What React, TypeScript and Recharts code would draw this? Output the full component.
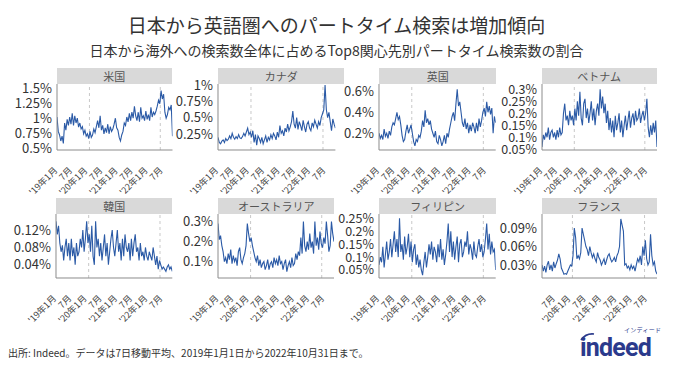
import React from "react";
import { LineChart, Line, XAxis, YAxis, ReferenceLine } from "recharts";

// 2019-01-01 .. 2022-10-31, 2 readings per month (7-day moving average)
const START = Date.UTC(2019, 0, 1);
const FR_START = Date.UTC(2019, 1, 1);
const END = Date.UTC(2022, 9, 31);

const usValues = [
  1.02, 0.78, 0.72, 0.62, 0.7, 0.58, 0.92, 0.8, 0.98, 0.88, 1.02, 0.9, 1.08, 0.88, 1.04, 0.92, 1.0, 0.85, 0.92, 0.82, 0.86, 0.74, 0.8, 0.7,
  0.74, 0.66, 0.78, 0.68, 0.72, 0.82, 0.76, 0.86, 0.96, 0.84, 1.04, 0.8, 0.88, 0.74, 0.84, 0.76, 0.9, 0.74, 0.86, 0.78, 0.82, 0.9, 1.0, 0.84,
  0.8, 0.68, 0.62, 0.72, 0.78, 0.92, 0.88, 1.02, 0.94, 1.08, 0.96, 1.1, 1.0, 1.2, 1.04, 0.96, 1.1, 0.94, 1.18, 1.0, 1.04, 0.96, 1.12, 0.98,
  1.06, 0.96, 1.18, 1.02, 1.1, 1.06, 1.12, 1.2, 1.3, 1.24, 1.46, 1.32, 1.4, 1.1, 1.0, 1.06, 1.18, 1.14, 1.22, 0.7,
];
const caValues = [
  0.2, 0.12, 0.1, 0.14, 0.16, 0.12, 0.18, 0.15, 0.17, 0.22, 0.18, 0.26, 0.2, 0.17, 0.21, 0.18, 0.24, 0.19, 0.18, 0.21, 0.26, 0.22, 0.28, 0.34,
  0.24, 0.28, 0.2, 0.3, 0.12, 0.24, 0.08, 0.22, 0.18, 0.12, 0.2, 0.1, 0.16, 0.22, 0.12, 0.2, 0.16, 0.24, 0.18, 0.26, 0.22, 0.16, 0.28, 0.2,
  0.38, 0.26, 0.3, 0.22, 0.34, 0.28, 0.4, 0.3, 0.36, 0.44, 0.6, 0.4, 0.34, 0.5, 0.32, 0.44, 0.38, 0.3, 0.46, 0.36, 0.28, 0.4, 0.44, 0.34,
  0.3, 0.42, 0.36, 0.46, 0.4, 0.34, 0.44, 0.38, 0.5, 0.56, 0.62, 1.0, 0.62, 0.5, 0.58, 0.44, 0.3, 0.48, 0.4, 0.34,
];
const ukValues = [
  0.2, 0.15, 0.18, 0.14, 0.24, 0.17, 0.2, 0.15, 0.22, 0.18, 0.26, 0.3, 0.28, 0.34, 0.4, 0.33, 0.36, 0.28, 0.18, 0.12, 0.14, 0.22, 0.28, 0.2,
  0.24, 0.28, 0.2, 0.12, 0.08, 0.14, 0.12, 0.18, 0.16, 0.22, 0.32, 0.26, 0.42, 0.3, 0.34, 0.28, 0.32, 0.24, 0.2, 0.16, 0.22, 0.12, 0.1, 0.18,
  0.14, 0.08, 0.12, 0.18, 0.1, 0.2, 0.16, 0.24, 0.3, 0.36, 0.4, 0.32, 0.48, 0.62, 0.46, 0.5, 0.4, 0.3, 0.26, 0.34, 0.24, 0.3, 0.2, 0.28,
  0.22, 0.3, 0.26, 0.2, 0.3, 0.22, 0.34, 0.26, 0.32, 0.4, 0.44, 0.36, 0.5, 0.4, 0.46, 0.38, 0.44, 0.2, 0.36, 0.3,
];
const vnValues = [
  0.06, 0.11, 0.09, 0.12, 0.1, 0.14, 0.09, 0.12, 0.13, 0.1, 0.12, 0.09, 0.13, 0.1, 0.14, 0.11, 0.12, 0.2, 0.24, 0.17, 0.19, 0.15, 0.21, 0.17,
  0.19, 0.15, 0.22, 0.17, 0.25, 0.19, 0.29, 0.18, 0.15, 0.24, 0.26, 0.18, 0.22, 0.16, 0.2, 0.25, 0.17, 0.22, 0.15, 0.21, 0.24, 0.19, 0.3, 0.22,
  0.27, 0.2, 0.24, 0.16, 0.21, 0.13, 0.18, 0.12, 0.17, 0.1, 0.19, 0.13, 0.16, 0.2, 0.12, 0.17, 0.1, 0.15, 0.19, 0.13, 0.17, 0.21, 0.14, 0.18,
  0.2, 0.15, 0.21, 0.17, 0.18, 0.22, 0.16, 0.19, 0.21, 0.17, 0.2, 0.26, 0.14, 0.1, 0.15, 0.11, 0.16, 0.12, 0.17, 0.06,
];
const krValues = [
  0.14, 0.11, 0.13, 0.09, 0.07, 0.085, 0.05, 0.08, 0.1, 0.06, 0.09, 0.05, 0.1, 0.06, 0.08, 0.04, 0.09, 0.06, 0.07, 0.1, 0.08, 0.12, 0.07, 0.1,
  0.14, 0.09, 0.11, 0.07, 0.13, 0.06, 0.04, 0.14, 0.08, 0.1, 0.06, 0.09, 0.05, 0.08, 0.11, 0.06, 0.09, 0.04, 0.07, 0.1, 0.12, 0.08, 0.06, 0.09,
  0.12, 0.07, 0.09, 0.05, 0.1, 0.06, 0.11, 0.08, 0.07, 0.09, 0.05, 0.1, 0.06, 0.09, 0.11, 0.07, 0.08, 0.05, 0.09, 0.06, 0.07, 0.05, 0.08, 0.06,
  0.05, 0.07, 0.06, 0.05, 0.08, 0.06, 0.04, 0.06, 0.03, 0.05, 0.04, 0.03, 0.035, 0.03, 0.025, 0.035, 0.04, 0.03, 0.035, 0.025,
];
const auValues = [
  0.29, 0.21, 0.23, 0.18, 0.15, 0.1, 0.12, 0.09, 0.14, 0.11, 0.16, 0.09, 0.13, 0.1, 0.12, 0.08, 0.15, 0.17, 0.11, 0.09, 0.12, 0.14, 0.18, 0.29,
  0.24, 0.2, 0.22, 0.18, 0.15, 0.12, 0.1, 0.13, 0.08, 0.11, 0.07, 0.09, 0.1, 0.06, 0.08, 0.11, 0.06, 0.09, 0.1, 0.07, 0.12, 0.09, 0.11, 0.08,
  0.13, 0.09, 0.1, 0.06, 0.09, 0.11, 0.05, 0.08, 0.1, 0.07, 0.12, 0.08, 0.09, 0.14, 0.11, 0.15, 0.13, 0.22, 0.14, 0.3, 0.18, 0.15, 0.2, 0.16,
  0.24, 0.17, 0.2, 0.14, 0.3, 0.18, 0.22, 0.16, 0.25, 0.19, 0.17, 0.22, 0.19, 0.3, 0.23, 0.15, 0.18, 0.3, 0.24, 0.2,
];
const phValues = [
  0.07, 0.1, 0.08, 0.14, 0.06, 0.11, 0.16, 0.09, 0.12, 0.17, 0.1, 0.15, 0.2, 0.12, 0.17, 0.1, 0.25, 0.12, 0.15, 0.09, 0.18, 0.11, 0.14, 0.19,
  0.1, 0.16, 0.08, 0.13, 0.15, 0.07, 0.11, 0.06, 0.09, 0.05, 0.03, 0.08, 0.12, 0.06, 0.1, 0.15, 0.11, 0.16, 0.09, 0.14, 0.12, 0.08, 0.15, 0.1,
  0.17, 0.09, 0.13, 0.07, 0.11, 0.16, 0.23, 0.12, 0.2, 0.1, 0.16, 0.09, 0.14, 0.18, 0.08, 0.15, 0.17, 0.1, 0.12, 0.16, 0.14, 0.2, 0.11, 0.15,
  0.13, 0.09, 0.16, 0.11, 0.1, 0.14, 0.17, 0.12, 0.15, 0.1, 0.12, 0.17, 0.23, 0.13, 0.19, 0.11, 0.16, 0.12, 0.13, 0.05,
];
// France starts Feb 2019
const frValues = [
  0.03, 0.02, 0.028, 0.018, 0.03, 0.036, 0.022, 0.03, 0.02, 0.035, 0.025, 0.032, 0.038, 0.048, 0.04, 0.025, 0.02, 0.015, 0.016, 0.015,
  0.02, 0.025, 0.03, 0.028, 0.045, 0.09, 0.075, 0.04, 0.045, 0.04, 0.05, 0.09, 0.08, 0.07, 0.06, 0.055, 0.045, 0.06, 0.05, 0.042,
  0.048, 0.04, 0.035, 0.05, 0.042, 0.038, 0.03, 0.035, 0.04, 0.03, 0.038, 0.045, 0.048, 0.04, 0.035, 0.038, 0.042, 0.035, 0.045, 0.05,
  0.06, 0.105, 0.095, 0.085, 0.03, 0.032, 0.025, 0.028, 0.022, 0.03, 0.024, 0.028, 0.02, 0.03, 0.04, 0.035, 0.045, 0.03, 0.06, 0.045,
  0.07, 0.04, 0.03, 0.035, 0.08, 0.045, 0.03, 0.035, 0.02, 0.015,
];

const xTickDates = [
  Date.UTC(2019, 0, 1), Date.UTC(2019, 6, 1), Date.UTC(2020, 0, 1), Date.UTC(2020, 6, 1),
  Date.UTC(2021, 0, 1), Date.UTC(2021, 6, 1), Date.UTC(2022, 0, 1), Date.UTC(2022, 6, 1),
];
const xTickLabels = ["'19年1月", "7月", "'20年1月", "7月", "'21年1月", "7月", "'22年1月", "7月"];
const markers = [Date.UTC(2020, 0, 29), Date.UTC(2022, 5, 5)];

const usTicks = [0.5, 0.75, 1, 1.25, 1.5];
const caTicks = [0.25, 0.5, 0.75, 1];
const ukTicks = [0.2, 0.4, 0.6];
const vnTicks = [0.05, 0.1, 0.15, 0.2, 0.25, 0.3];
const krTicks = [0.04, 0.08, 0.12];
const auTicks = [0.1, 0.2, 0.3];
const phTicks = [0.05, 0.1, 0.15, 0.2, 0.25];
const frTicks = [0.03, 0.06, 0.09];

const toSeries = (values: number[], start: number) =>
  values.map((v, i) => ({ t: start + ((END - start) * i) / (values.length - 1), v }));

const panels = [
  { name: "米国", values: usValues, start: START, ticks: usTicks, domain: [0.47, 1.57], x: 56.5, y: 84, w: 115.5, h: 66, sw: 115.5, fs: 13 },
  { name: "カナダ", values: caValues, start: START, ticks: caTicks, domain: [0.005, 1.015], x: 218.3, y: 84, w: 117.4, h: 66, sw: 125.7, fs: 13 },
  { name: "英国", values: ukValues, start: START, ticks: ukTicks, domain: [0.04, 0.67], x: 379.3, y: 84, w: 116.7, h: 66, sw: 116.7, fs: 13 },
  { name: "ベトナム", values: vnValues, start: START, ticks: vnTicks, domain: [0.047, 0.322], x: 541.7, y: 84, w: 115, h: 66, sw: 115, fs: 12.5 },
  { name: "韓国", values: krValues, start: START, ticks: krTicks, domain: [0.0096, 0.157], x: 56, y: 214, w: 116.3, h: 64, sw: 116.3, fs: 13 },
  { name: "オーストラリア", values: auValues, start: START, ticks: auTicks, domain: [0.018, 0.338], x: 218.3, y: 214, w: 116, h: 64, sw: 116, fs: 13 },
  { name: "フィリピン", values: phValues, start: START, ticks: phTicks, domain: [0.019, 0.267], x: 379.3, y: 214, w: 116.7, h: 64, sw: 116.7, fs: 12.5 },
  { name: "フランス", values: frValues, start: FR_START, ticks: frTicks, domain: [0.0087, 0.113], x: 541.7, y: 214, w: 115, h: 64, sw: 115, fs: 13 },
];

const FONT = "'Noto Sans CJK JP', 'Noto Sans', sans-serif";
const Y_W = 60;
const TOP = 10;

function DateTick(props: any) {
  const { x, y, payload } = props;
  const idx = xTickDates.indexOf(payload.value);
  const label = idx >= 0 ? xTickLabels[idx] : "";
  const ax = x + 1;
  const ay = y + 13;
  return (
    <text x={ax} y={ay} transform={`rotate(-45, ${ax}, ${ay})`} textAnchor="end" fontSize={9} fill="#444" fontFamily={FONT}>
      {label}
    </text>
  );
}

function Panel({ p }: { p: (typeof panels)[number] }) {
  const data = toSeries(p.values, p.start);
  const ticks = xTickDates.filter((d) => d >= p.start);
  return (
    <>
      <div
        style={{
          position: "absolute",
          left: p.x,
          top: p.y - 16.5,
          width: p.sw,
          height: 16.5,
          background: "#d9d9d9",
          color: "#555",
          fontSize: 11,
          lineHeight: "16.5px",
          textAlign: "center",
        }}
      >
        {p.name}
      </div>
      <div style={{ position: "absolute", left: p.x - Y_W, top: p.y - TOP }}>
        <LineChart width={Y_W + p.w + 2} height={TOP + p.h + 50} data={data} margin={{ top: TOP, right: 2, bottom: 0, left: 0 }}>
          <XAxis
            dataKey="t"
            type="number"
            domain={[p.start, END]}
            ticks={ticks}
            interval={0}
            tick={<DateTick />}
            tickLine={false}
            axisLine={{ stroke: "#8c8c8c" }}
            height={50}
            allowDataOverflow
          />
          <YAxis
            type="number"
            domain={p.domain}
            ticks={p.ticks}
            interval={0}
            width={Y_W}
            tickLine={false}
            tickSize={4}
            tickMargin={1}
            axisLine={{ stroke: "#8c8c8c" }}
            tick={{ fontSize: p.fs, fill: "#333", fontFamily: FONT }}
            tickFormatter={(v: number) => `${v}%`}
            allowDataOverflow
          />
          {markers.map((m) => (
            <ReferenceLine key={m} x={m} stroke="#c8c8c8" strokeDasharray="3 3" strokeWidth={1} />
          ))}
          <Line type="linear" dataKey="v" stroke="#2b5aa6" strokeWidth={1.1} dot={false} isAnimationActive={false} />
        </LineChart>
      </div>
    </>
  );
}

export default function App() {
  return (
    <div
      style={{
        position: "relative",
        width: 673,
        height: 366,
        margin: -8,
        background: "#fff",
        fontFamily: FONT,
        overflow: "hidden",
      }}
    >
      <div style={{ position: "absolute", top: 11, left: 0, width: 673, textAlign: "center", fontSize: 19, color: "#333" }}>
        日本から英語圏へのパートタイム検索は増加傾向
      </div>
      <div style={{ position: "absolute", top: 40, left: 0, width: 673, textAlign: "center", fontSize: 14, color: "#333" }}>
        日本から海外への検索数全体に占めるTop8関心先別パートタイム検索数の割合
      </div>
      {panels.map((p) => (
        <Panel key={p.name} p={p} />
      ))}
      <div style={{ position: "absolute", left: 8, top: 345, fontSize: 10, color: "#333" }}>
        出所: Indeed。データは7日移動平均、2019年1月1日から2022年10月31日まで。
      </div>
      <div style={{ position: "absolute", left: 624, top: 325, fontSize: 6, color: "#2b3a8c", letterSpacing: 0.3, whiteSpace: "nowrap" }}>
        インディード
      </div>
      <svg style={{ position: "absolute", left: 578, top: 330 }} width={90} height={32}>
        <path d="M3 10 Q8 3 16 4" stroke="#2b3a8c" strokeWidth={1.6} fill="none" />
        <text x={2} y={26} fontSize={25} fontWeight={700} fill="#2b3a8c" fontFamily="Roboto, 'Open Sans', sans-serif" letterSpacing={-0.8}>
          indeed
        </text>
      </svg>
    </div>
  );
}
